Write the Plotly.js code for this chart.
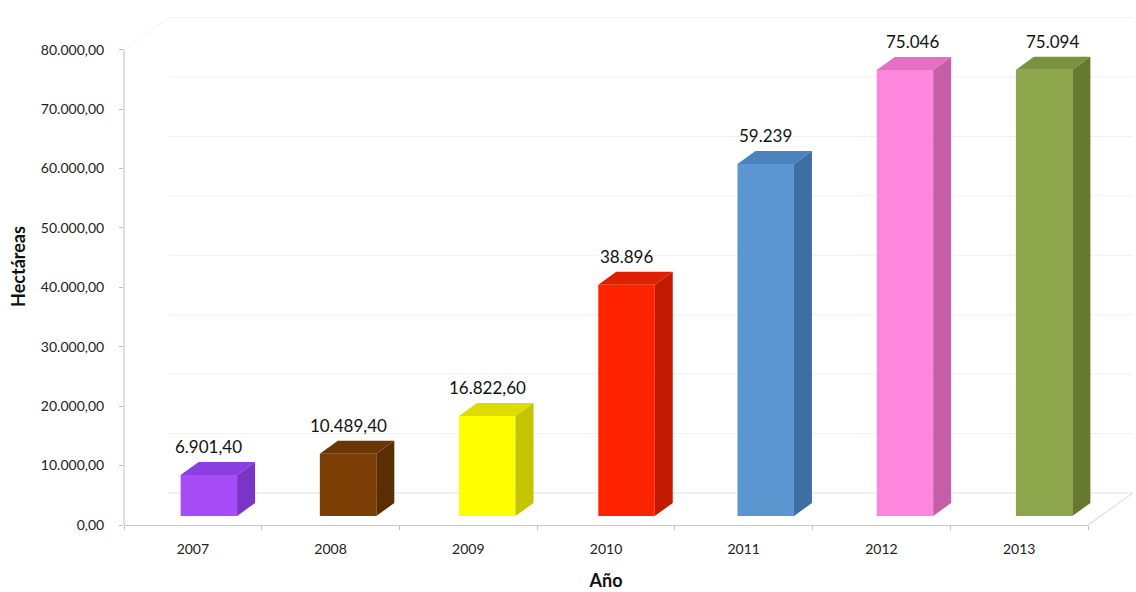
<!DOCTYPE html>
<html>
<head>
<meta charset="utf-8">
<script src="https://cdn.plot.ly/plotly-3.0.1.min.js"></script>
<style>html,body{margin:0;padding:0;background:#fff;}#chart{width:1136px;height:592px;}</style>
</head>
<body>
<div id="chart"></div>
<script>
// ---- data ----
const years = ['2007', '2008', '2009', '2010', '2011', '2012', '2013'];
const values = [6901.4, 10489.4, 16822.6, 38896, 59239, 75046, 75094];
const valueLabels = ['6.901,40', '10.489,40', '16.822,60', '38.896', '59.239', '75.046', '75.094'];
const yTickVals = [0, 10000, 20000, 30000, 40000, 50000, 60000, 70000, 80000];
const yTickText = ['0,00', '10.000,00', '20.000,00', '30.000,00', '40.000,00', '50.000,00', '60.000,00', '70.000,00', '80.000,00'];
const frontColors = ['#a64cf7', '#7b3f05', '#ffff00', '#ff2400', '#5b96d1', '#ff86dd', '#8ea64b'];
const sideColors  = ['#7a34c6', '#5a2d02', '#c4c400', '#c21a00', '#3e6ea2', '#c45ea7', '#66792f'];
const topColors   = ['#8c3fe0', '#6a3604', '#dcdc00', '#de1f00', '#4b82bb', '#e371c2', '#7a913d'];

// ---- geometry / styling ----
const W = 1136, H = 592;
const M = {l: 124, r: 48, t: 8, b: 67};
const plotW = W - M.l - M.r, plotH = H - M.t - M.b;
const xMin = -0.5, xMax = years.length - 0.5, yMax = 87000;
const pxPerX = plotW / (xMax - xMin), pxPerY = plotH / yMax;
const barW = 0.41;
const baseUnits = 9 / pxPerY;          // bars sit mid-depth
const depthX = 18 / pxPerX, depthY = 13 / pxPerY;
const wallX = 45 / pxPerX, wallY = 32 / pxPerY;
const xp = x => (x - xMin) / (xMax - xMin);
const yp = y => y / yMax;

const idx = years.map((_, i) => i);
const barX = idx.map(i => i + (16 + 1.5 * i) / pxPerX);
const baseArr = values.map(() => baseUnits);

const shapes = [];
// back wall gridlines
yTickVals.forEach(v => {
  shapes.push({type: 'line', xref: 'paper', yref: 'paper', layer: 'below',
    x0: xp(xMin + wallX), x1: xp(xMax + wallX), y0: yp(v + wallY), y1: yp(v + wallY),
    line: {color: v === 0 ? '#e0e0e0' : '#f0f0f0', width: 1}});
});
// floor right diagonal
shapes.push({type: 'line', xref: 'paper', yref: 'paper', layer: 'below',
  x0: xp(xMax), y0: yp(0), x1: xp(xMax + wallX), y1: yp(wallY), line: {color: '#d4d4d4', width: 1}});
// top-left wall diagonal (very faint)
shapes.push({type: 'line', xref: 'paper', yref: 'paper', layer: 'below',
  x0: xp(xMin), y0: yp(80000), x1: xp(xMin + wallX), y1: yp(80000 + wallY), line: {color: '#f4f4f4', width: 1}});
// y axis line (0 -> 80000)
shapes.push({type: 'line', xref: 'paper', yref: 'paper', layer: 'above',
  x0: 0, x1: 0, y0: yp(0), y1: yp(80000), line: {color: '#bdbdbd', width: 1}});

// 3D faces
values.forEach((v, i) => {
  const xl = barX[i] - barW / 2, xr = barX[i] + barW / 2;
  const b = baseUnits, t = baseUnits + v;
  const P = (x, y) => xp(x) + ',' + yp(y);
  shapes.push({type: 'path', xref: 'paper', yref: 'paper', layer: 'above',
    path: 'M' + P(xl, t) + ' L' + P(xl + depthX, t + depthY) + ' L' + P(xr + depthX, t + depthY) + ' L' + P(xr, t) + ' Z',
    fillcolor: topColors[i], line: {width: 0}});
  shapes.push({type: 'path', xref: 'paper', yref: 'paper', layer: 'above',
    path: 'M' + P(xr, b) + ' L' + P(xr, t) + ' L' + P(xr + depthX, t + depthY) + ' L' + P(xr + depthX, b + depthY) + ' Z',
    fillcolor: sideColors[i], line: {width: 0}});
});

const annotations = values.map((v, i) => ({
  xref: 'x', yref: 'y', x: barX[i] + (i >= 5 ? 8 / pxPerX : 0), y: baseUnits + v + depthY,
  text: valueLabels[i], showarrow: false, yanchor: 'bottom', yshift: 3,
  font: {family: 'Lato, sans-serif', size: 17, color: '#111'}
}));

const trace = {
  type: 'bar', x: barX, y: values, base: baseArr, width: barW,
  marker: {color: frontColors, line: {width: 0}},
  hoverinfo: 'skip'
};

const layout = {
  width: W, height: H,
  margin: M,
  paper_bgcolor: '#fff', plot_bgcolor: 'rgba(0,0,0,0)',
  showlegend: false,
  font: {family: 'Lato, sans-serif', color: '#222'},
  xaxis: {
    range: [xMin, xMax], tickvals: idx, ticktext: years, ticks: '',
    tickfont: {size: 14, color: '#222'},
    showline: true, linecolor: '#c8c8c8', linewidth: 1,
    showgrid: false, zeroline: false, fixedrange: true,
    ticklabelstandoff: 11,
    minor: {tickvals: idx.map(i => i - 0.5).concat([xMax]), ticks: 'outside', ticklen: 4, tickcolor: '#bdbdbd', showgrid: false},
    title: {text: '<b>Año</b>', font: {size: 18, color: '#111'}, standoff: 18}
  },
  yaxis: {
    range: [0, yMax], tickvals: yTickVals, ticktext: yTickText,
    ticks: 'outside', ticklen: 4, tickcolor: '#bdbdbd',
    tickfont: {size: 14, color: '#222'},
    ticklabelstandoff: 12,
    showline: false, showgrid: false, zeroline: false, fixedrange: true,
    title: {text: '<b>Hectáreas</b>', font: {size: 18, color: '#111'}, standoff: 10}
  },
  shapes: shapes,
  annotations: annotations
};

Plotly.newPlot('chart', [trace], layout, {displayModeBar: false, staticPlot: true});
</script>
</body>
</html>
